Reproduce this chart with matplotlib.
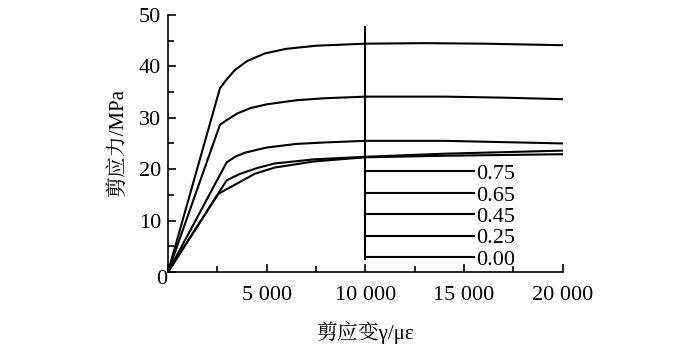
import matplotlib
matplotlib.use("Agg")
import matplotlib.pyplot as plt
from matplotlib.ticker import MultipleLocator

plt.rcParams['font.family'] = ['Liberation Serif', 'Noto Serif CJK SC']

# curves (strain in με, stress in MPa)
labels = ['0.75', '0.65', '0.45', '0.25', '0.00']

strain_e = [0, 2550, 3500, 4400, 5400, 7400, 10000, 14000, 20000]
stress_e = [0, 15.2, 17.2, 19.1, 20.3, 21.5, 22.3, 22.6, 22.9]

strain_d = [0, 2970, 3600, 4500, 5400, 7400, 10000, 14000, 20000]
stress_d = [0, 17.8, 19.0, 20.2, 21.1, 21.9, 22.4, 23.0, 23.6]

strain_c = [0, 2970, 3400, 3900, 5000, 6500, 8000, 10000, 14000, 20000]
stress_c = [0, 21.3, 22.4, 23.2, 24.2, 24.9, 25.2, 25.5, 25.5, 25.0]

strain_b = [0, 2630, 3000, 3500, 4200, 5000, 6500, 8000, 10000, 14000, 17000, 20000]
stress_b = [0, 28.6, 29.6, 30.8, 31.9, 32.6, 33.4, 33.8, 34.1, 34.1, 33.9, 33.6]

strain_a = [0, 2630, 3000, 3400, 4000, 4900, 6000, 7500, 10000, 13000, 16000, 20000]
stress_a = [0, 35.7, 37.6, 39.3, 41.0, 42.5, 43.4, 44.0, 44.4, 44.5, 44.4, 44.1]

curves = [(strain_e, stress_e), (strain_d, stress_d), (strain_c, stress_c),
          (strain_b, stress_b), (strain_a, stress_a)]

# stray vertical rule at the legend edge
rule_x = 10000
rule_y = (2.3, 47.9)

fig = plt.figure(figsize=(7, 3.46), dpi=100)
ax = fig.add_axes([0.24, 0.214, 0.564, 0.743])

for (x, y), lab in zip(curves, labels):
    ax.plot(x, y, color='black', lw=1.5, label=lab)

ax.vlines(rule_x, rule_y[0], rule_y[1], color='black', lw=1.5)

ax.set_xlim(0, 20000)
ax.set_ylim(0, 50)
ax.spines['top'].set_visible(False)
ax.spines['right'].set_visible(False)
for s in ['left', 'bottom']:
    ax.spines[s].set_linewidth(1.2)

ax.xaxis.set_minor_locator(MultipleLocator(2500))
ax.yaxis.set_minor_locator(MultipleLocator(5))
ax.set_xticks([0, 5000, 10000, 15000, 20000])
ax.set_xticklabels(['', '5 000', '10 000', '15 000', '20 000'])
ax.set_yticks([0, 10, 20, 30, 40, 50])
ax.set_yticklabels(['', '10', '20', '30', '40', '50'])
ax.tick_params(axis='both', which='major', direction='in', length=6, width=1.2, labelsize=16)
ax.tick_params(axis='both', which='minor', direction='in', length=4, width=1.2)
ax.tick_params(axis='x', which='major', pad=10)
ax.tick_params(axis='y', which='major', pad=5)

ax.annotate('0', xy=(0, 0), xytext=(-6, -8), textcoords='offset pixels',
            ha='center', va='center', fontsize=16)

ax.set_xlabel('剪应变γ/με', fontsize=15, labelpad=12)
ax.set_ylabel('剪应力/MPa', fontsize=15, labelpad=8)

ax.legend(loc='lower left', bbox_to_anchor=(10000, 0.4), bbox_transform=ax.transData,
          frameon=False, fontsize=16, handlelength=4.9, handletextpad=0.1,
          labelspacing=0.04, borderpad=0, borderaxespad=0)

fig.savefig('out.png', dpi=100)
